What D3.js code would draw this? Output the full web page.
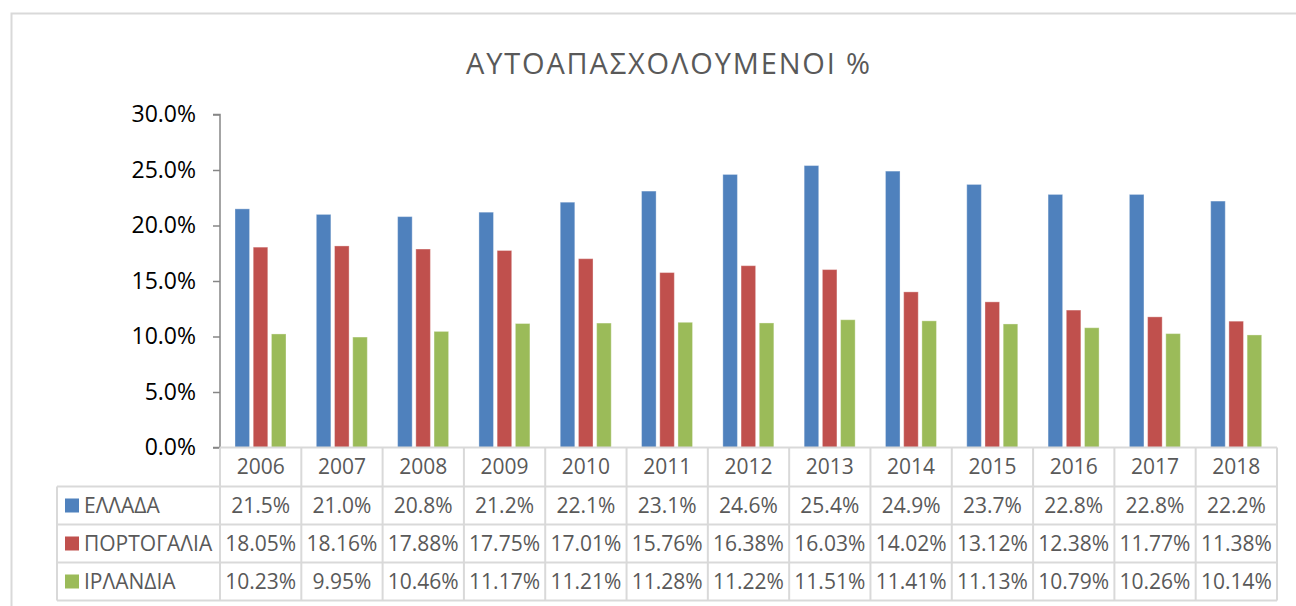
<!DOCTYPE html>
<html>
<head>
<meta charset="utf-8">
<style>
body { margin: 0; background: #fff; }
svg text { font-family: "Open Sans", "Noto Sans", sans-serif; }
</style>
</head>
<body>
<svg width="1296" height="606" class="chart"></svg>
<script src="https://d3js.org/d3.v7.min.js"></script>
<script>

var title = "ΑΥΤΟΑΠΑΣΧΟΛΟΥΜΕΝΟΙ %";
var years = ["2006", "2007", "2008", "2009", "2010", "2011", "2012", "2013", "2014", "2015", "2016", "2017", "2018"];
var seriesNames = ["ΕΛΛΑΔΑ", "ΠΟΡΤΟΓΑΛΙΑ", "ΙΡΛΑΝΔΙΑ"];
var seriesColors = ["#4F81BD", "#C0504D", "#9BBB59"];
var seriesDecimals = [1, 2, 2];
var greece   = [21.5, 21.0, 20.8, 21.2, 22.1, 23.1, 24.6, 25.4, 24.9, 23.7, 22.8, 22.8, 22.2];
var portugal = [18.05, 18.16, 17.88, 17.75, 17.01, 15.76, 16.38, 16.03, 14.02, 13.12, 12.38, 11.77, 11.38];
var ireland  = [10.23, 9.95, 10.46, 11.17, 11.21, 11.28, 11.22, 11.51, 11.41, 11.13, 10.79, 10.26, 10.14];
var yTicks = [0, 5, 10, 15, 20, 25, 30];

var seriesValues = [greece, portugal, ireland];

var svg = d3.select(".chart");

// chart area border (runs off the right and bottom edges)
svg.append("rect")
    .attr("x", 11.5).attr("y", 13.5)
    .attr("width", 1320).attr("height", 640)
    .attr("fill", "none")
    .attr("stroke", "#d9d9d9")
    .attr("stroke-width", 2);

svg.append("text")
    .attr("x", 466).attr("y", 74)
    .attr("font-size", 29)
    .attr("fill", "#595959")
    .attr("textLength", 404)
    .attr("lengthAdjust", "spacing")
    .text(title);

var plotLeft = 220, plotRight = 1277, plotTop = 114.5, plotBase = 447.5;

var x0 = d3.scaleBand().domain(years).range([plotLeft, plotRight]);
var x1 = d3.scaleBand().domain(d3.range(3)).range([15, 66]).paddingInner(0.2);
var y = d3.scaleLinear().domain([0, 30]).range([plotBase, plotTop]);

// bars
var groups = svg.append("g")
  .selectAll("g")
  .data(years)
  .join("g")
    .attr("transform", function(d) { return "translate(" + x0(d) + ",0)"; });

groups.selectAll("rect")
  .data(function(d, i) { return seriesValues.map(function(v, k) { return {k: k, value: v[i]}; }); })
  .join("rect")
    .attr("x", function(d) { return x1(d.k); })
    .attr("y", function(d) { return y(d.value); })
    .attr("width", x1.bandwidth())
    .attr("height", function(d) { return plotBase - y(d.value); })
    .attr("fill", function(d) { return seriesColors[d.k]; })
    .attr("stroke", "#fff")
    .attr("stroke-opacity", 0.35)
    .attr("stroke-width", 1);

// y axis
var yAxis = svg.append("g")
    .attr("transform", "translate(" + plotLeft + ",0)")
    .call(d3.axisLeft(y).tickValues(yTicks).tickSize(7).tickPadding(17)
      .tickFormat(function(d) { return d.toFixed(1) + "%"; }));
yAxis.selectAll("path, line").attr("stroke", "#868686").attr("stroke-width", 1.5);
yAxis.select(".domain").attr("d", "M-7," + plotTop + "H0V" + plotBase + "H-7");
yAxis.selectAll("text")
    .attr("font-family", "'Open Sans', sans-serif")
    .attr("font-size", 23)
    .attr("fill", "#000");

// data table
var rowTops = [447.5, 486.5, 524.5, 562.5, 600.5];
var labelLeft = 57;
var table = svg.append("g")
    .attr("stroke", "#d9d9d9")
    .attr("stroke-width", 2)
    .attr("fill", "none");

rowTops.forEach(function(ry, i) {
  table.append("line")
      .attr("x1", i === 0 ? plotLeft : labelLeft).attr("x2", plotRight)
      .attr("y1", ry).attr("y2", ry);
});
table.append("line")
    .attr("x1", labelLeft).attr("x2", labelLeft)
    .attr("y1", rowTops[1]).attr("y2", rowTops[4]);
years.concat([null]).forEach(function(yr) {
  var xx = yr === null ? plotRight : x0(yr);
  table.append("line")
      .attr("x1", xx).attr("x2", xx)
      .attr("y1", rowTops[0]).attr("y2", rowTops[4]);
});

svg.append("g")
  .selectAll("text")
  .data(years)
  .join("text")
    .attr("x", function(d) { return x0(d) + x0.bandwidth() / 2; })
    .attr("y", (rowTops[0] + rowTops[1]) / 2)
    .attr("dy", "0.35em")
    .attr("text-anchor", "middle")
    .attr("font-size", 21)
    .attr("fill", "#595959")
    .text(function(d) { return d; });

seriesNames.forEach(function(name, k) {
  var cy = (rowTops[k + 1] + rowTops[k + 2]) / 2;
  svg.append("rect")
      .attr("x", 65).attr("y", cy - 7)
      .attr("width", 14).attr("height", 14)
      .attr("fill", seriesColors[k]);
  svg.append("text")
      .attr("x", 84).attr("y", cy)
      .attr("dy", "0.35em")
      .attr("font-size", 21)
      .attr("fill", "#595959")
      .text(name);
  svg.append("g")
    .selectAll("text")
    .data(seriesValues[k])
    .join("text")
      .attr("x", function(d, i) { return x0(years[i]) + x0.bandwidth() / 2; })
      .attr("y", cy)
      .attr("dy", "0.35em")
      .attr("text-anchor", "middle")
      .attr("font-size", 21)
      .attr("fill", "#595959")
      .text(function(d) { return d.toFixed(seriesDecimals[k]) + "%"; });
});

</script>
</body>
</html>
